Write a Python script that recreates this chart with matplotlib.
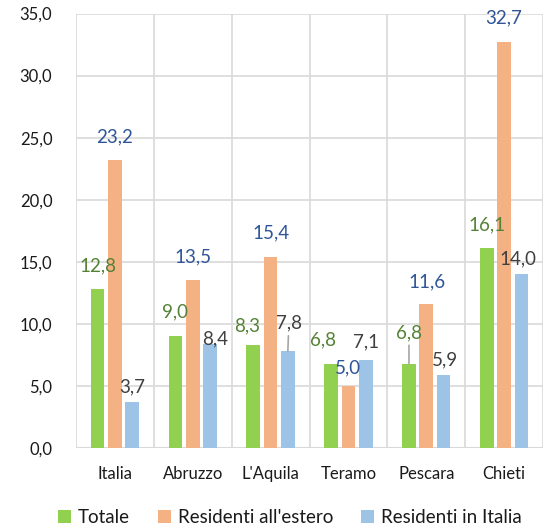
import matplotlib
matplotlib.use("Agg")
from matplotlib import pyplot as plt
from matplotlib.patches import Patch
import numpy as np

# valori (%) per area
categorie = ["Italia", "Abruzzo", "L'Aquila", "Teramo", "Pescara", "Chieti"]
totale = [12.8, 9.0, 8.3, 6.8, 6.8, 16.1]
res_estero = [23.2, 13.5, 15.4, 5.0, 11.6, 32.7]
res_italia = [3.7, 8.4, 7.8, 7.1, 5.9, 14.0]
serie_nomi = ["Totale", "Residenti all'estero", "Residenti in Italia"]
y_ticks = [0, 5, 10, 15, 20, 25, 30, 35]

col_barre = ["#92d050", "#f4b183", "#9dc3e6"]
col_etich = ["#548235", "#2f5597", "#404040"]
col_griglia = "#d9d9d9"

# spostamento delle etichette (pixel) rispetto alla cima della barra
spost = [
    [(0, 23), (0, 24), (-6, 19), (-8, 24), (0, 31), (0, 23)],
    [(0, 23), (0, 24), (0, 24), (0, 18), (1, 22), (0, 24)],
    [(0, 15), (5, 5), (1, 28), (0, 18), (1, 15), (-3, 15)],
]
# etichette con linea di richiamo
richiamo = {(0, 4), (2, 2)}

plt.rcParams['font.family'] = ['Lato', 'DejaVu Sans']

fig = plt.figure(figsize=(5.54, 5.30), dpi=100)
ax = fig.add_axes([76 / 554, 1 - 448 / 530, (543 - 76) / 554, (448 - 13.5) / 530])

x = np.arange(len(categorie))
larg = 0.175
passo = 0.222
serie = [totale, res_estero, res_italia]

for i, valori in enumerate(serie):
    pos = x + (i - 1) * passo
    ax.bar(pos, valori, width=larg, color=col_barre[i], zorder=3)
    for j, v in enumerate(valori):
        dx, dy = spost[i][j]
        testo = f"{v:.1f}".replace(".", ",")
        kw = {}
        if (i, j) in richiamo:
            kw["arrowprops"] = dict(arrowstyle="-", color="#a6a6a6", lw=1.2,
                                    shrinkA=1, shrinkB=0)
        ax.annotate(testo, xy=(pos[j], v), xytext=(dx, dy),
                    textcoords="offset pixels", ha="center", va="center",
                    fontsize=13.5, color=col_etich[i], zorder=4, **kw)

ax.set_xlim(-0.5, len(categorie) - 0.5)
ax.set_ylim(0, 35)
ax.set_yticks(y_ticks)
ax.set_yticklabels([f"{t:.1f}".replace(".", ",") for t in y_ticks],
                   fontsize=12, color="#1a1a1a")
ax.set_xticks(x)
ax.set_xticklabels(categorie, fontsize=12, color="#1a1a1a")
ax.set_xticks(np.arange(len(categorie) + 1) - 0.5, minor=True)
ax.tick_params(axis="both", which="both", length=0)
ax.tick_params(axis="y", pad=17)
ax.tick_params(axis="x", pad=13)

ax.grid(True, axis="y", which="major", color=col_griglia, lw=1.2, zorder=0)
ax.grid(True, axis="x", which="minor", color=col_griglia, lw=1.2, zorder=0)
for lato in ["top", "right", "left", "bottom"]:
    ax.spines[lato].set_visible(False)
ax.axhline(0, color=col_griglia, lw=1.5, zorder=2)

maniglie = [Patch(facecolor=c, edgecolor="none") for c in col_barre]
fig.legend(maniglie, serie_nomi, loc="center", bbox_to_anchor=(0.523, 0.024),
           ncol=3, frameon=False, fontsize=13.5, handlelength=0.7,
           handleheight=0.7, handletextpad=0.35, columnspacing=1.5,
           labelcolor="#1a1a1a")

fig.savefig("out.png", dpi=100)
